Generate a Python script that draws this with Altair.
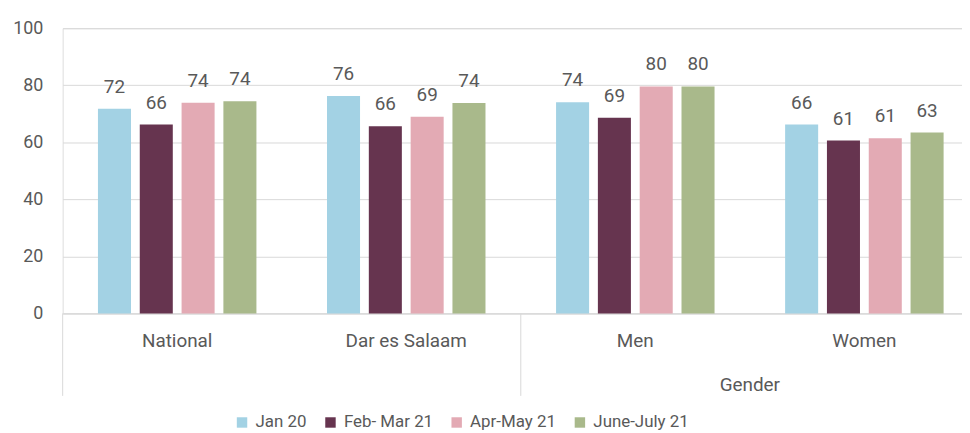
import altair as alt
import pandas as pd

FONT = "Roboto"
TXT = "#595959"
GRID = "#d9d9d9"

categories = ["National", "Dar es Salaam", "Men", "Women"]
series = ["Jan 20", "Feb- Mar 21", "Apr-May 21", "June-July 21"]
jan20 = [71.8, 76.2, 74.0, 66.2]
febmar21 = [66.2, 65.6, 68.6, 60.6]
aprmay21 = [73.9, 69.0, 79.6, 61.4]
junejuly21 = [74.4, 73.8, 79.6, 63.4]
colors = ["#a3d2e4", "#66344f", "#e3aab4", "#a9b98b"]
group_label = "Gender"
group_members = ["Men", "Women"]
y_ticks = [0, 20, 40, 60, 80, 100]

rows = []
for s, vals in zip(series, [jan20, febmar21, aprmay21, junejuly21]):
    for c, v in zip(categories, vals):
        rows.append({"category": c, "series": s, "value": v})
df = pd.DataFrame(rows)

x_axis = alt.Axis(title=None, labelAngle=0, labelFontSize=19, labelColor=TXT,
                  labelPadding=18, ticks=False, domainColor=GRID, labelFont=FONT)
x_scale = alt.Scale(range=[0, 922], paddingInner=0, paddingOuter=0)

x = alt.X("category:N", sort=categories, scale=x_scale, axis=x_axis)
xoff = alt.XOffset("series:N", sort=series,
                   scale=alt.Scale(paddingInner=0.21, paddingOuter=0.844))
y = alt.Y("value:Q", scale=alt.Scale(domain=[0, 100]),
          axis=alt.Axis(values=y_ticks, title=None, domain=False, ticks=False,
                        gridColor=GRID, labelPadding=20, labelFontSize=18,
                        labelColor=TXT, labelFont=FONT))
color = alt.Color("series:N", sort=series,
                  scale=alt.Scale(domain=series, range=colors),
                  legend=alt.Legend(title=None, orient="none", legendX=172, legendY=388,
                                    direction="horizontal", symbolType="square",
                                    symbolSize=110, symbolStrokeWidth=0,
                                    labelFontSize=17, labelColor=TXT, labelFont=FONT,
                                    columnPadding=15, labelOffset=5))

bars = alt.Chart(df).mark_bar().encode(x=x, xOffset=xoff, y=y, color=color)
labels = alt.Chart(df).mark_text(baseline="alphabetic", dy=-16, fontSize=19, color=TXT,
                                  font=FONT).encode(
    x=x, xOffset=xoff, y=y, text=alt.Text("value:Q", format=".0f"))

rules_df = pd.DataFrame({"category": [categories[0], group_members[0]]})
rules = alt.Chart(rules_df).mark_rule(color=GRID, strokeWidth=1).encode(
    x=alt.X("category:N", sort=categories, bandPosition=0, scale=x_scale, axis=x_axis),
    y=alt.value(287), y2=alt.value(370))

grp_df = pd.DataFrame({"category": [group_members[0]], "label": [group_label]})
grp = alt.Chart(grp_df).mark_text(fontSize=19, color=TXT, font=FONT,
                                  baseline="middle").encode(
    x=alt.X("category:N", sort=categories, bandPosition=1, scale=x_scale, axis=x_axis),
    y=alt.value(359), text="label:N")

chart = alt.layer(bars, labels, rules, grp).properties(
    width=905, height=287,
    autosize=alt.AutoSizeParams(type="none"),
    padding={"left": 55, "top": 19, "right": 0, "bottom": 120},
).configure_view(stroke=None).configure(font=FONT)

chart.save("out.html", embed_options={"renderer": "svg", "actions": False})
